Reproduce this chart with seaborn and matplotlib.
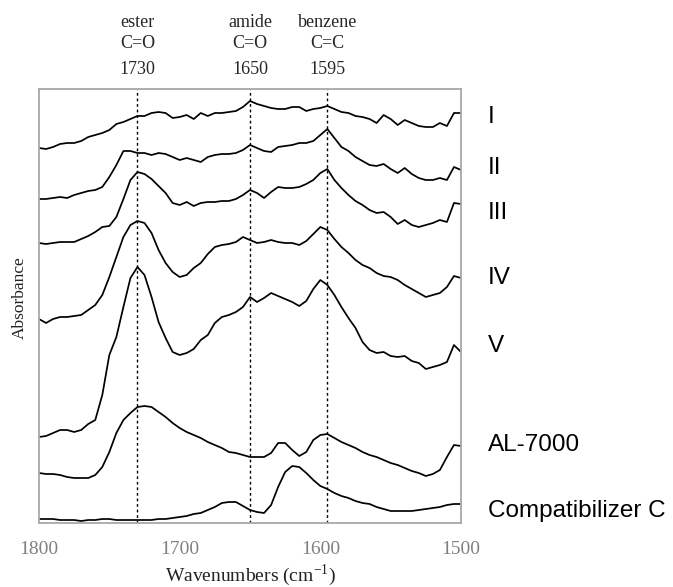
import numpy as np
import pandas as pd
import matplotlib
matplotlib.use("Agg")
import matplotlib.pyplot as plt
import matplotlib.transforms as mtransforms
import seaborn as sns

# FTIR spectra, stacked (offset absorbance, a.u.)
wavenumbers = list(range(1800, 1499, -5))

abs_I = [3.75, 3.74, 3.76, 3.79, 3.80, 3.80, 3.82, 3.86, 3.88, 3.90, 3.93, 3.99, 4.01, 4.04, 4.07,
         4.07, 4.10, 4.11, 4.10, 4.05, 4.06, 4.08, 4.04, 4.10, 4.07, 4.10, 4.10, 4.11, 4.12, 4.16,
         4.22, 4.19, 4.17, 4.15, 4.14, 4.14, 4.16, 4.16, 4.12, 4.14, 4.15, 4.17, 4.14, 4.11, 4.10,
         4.07, 4.06, 4.04, 4.00, 4.08, 4.04, 3.98, 4.03, 4.00, 3.97, 3.96, 3.96, 4.00, 3.97, 4.10, 4.10]
abs_II = [3.24, 3.24, 3.25, 3.26, 3.25, 3.28, 3.30, 3.32, 3.33, 3.36, 3.46, 3.58, 3.72, 3.72, 3.70,
          3.70, 3.68, 3.70, 3.69, 3.66, 3.63, 3.65, 3.63, 3.61, 3.66, 3.68, 3.69, 3.69, 3.70, 3.73,
          3.78, 3.75, 3.72, 3.71, 3.76, 3.77, 3.78, 3.80, 3.80, 3.82, 3.88, 3.94, 3.85, 3.76, 3.72,
          3.66, 3.62, 3.58, 3.57, 3.59, 3.54, 3.50, 3.55, 3.49, 3.45, 3.43, 3.43, 3.45, 3.43, 3.56, 3.53]
abs_III = [2.80, 2.79, 2.80, 2.81, 2.81, 2.81, 2.84, 2.87, 2.91, 2.96, 2.97, 3.06, 3.24, 3.43, 3.51,
           3.49, 3.44, 3.37, 3.30, 3.20, 3.18, 3.21, 3.17, 3.20, 3.21, 3.21, 3.22, 3.22, 3.24, 3.28,
           3.33, 3.30, 3.25, 3.31, 3.36, 3.35, 3.35, 3.36, 3.39, 3.43, 3.50, 3.54, 3.43, 3.35, 3.28,
           3.22, 3.18, 3.13, 3.10, 3.11, 3.06, 2.99, 3.03, 2.98, 2.96, 2.98, 3.00, 3.03, 3.01, 3.20, 3.19]
abs_IV = [2.04, 2.00, 2.04, 2.06, 2.06, 2.07, 2.08, 2.13, 2.18, 2.28, 2.46, 2.66, 2.86, 2.98, 3.02,
          3.00, 2.90, 2.73, 2.60, 2.51, 2.46, 2.48, 2.55, 2.60, 2.69, 2.76, 2.78, 2.79, 2.81, 2.86,
          2.83, 2.80, 2.81, 2.83, 2.81, 2.80, 2.80, 2.78, 2.82, 2.89, 2.96, 2.93, 2.84, 2.76, 2.70,
          2.63, 2.58, 2.55, 2.50, 2.47, 2.46, 2.43, 2.38, 2.34, 2.30, 2.26, 2.28, 2.30, 2.36, 2.47, 2.45]
abs_V = [0.86, 0.87, 0.90, 0.93, 0.93, 0.91, 0.93, 0.99, 1.03, 1.28, 1.68, 1.86, 2.16, 2.45, 2.56,
         2.48, 2.26, 2.01, 1.85, 1.71, 1.68, 1.70, 1.74, 1.83, 1.88, 2.00, 2.06, 2.08, 2.11, 2.16,
         2.26, 2.21, 2.25, 2.30, 2.27, 2.24, 2.21, 2.17, 2.22, 2.34, 2.43, 2.38, 2.28, 2.16, 2.05,
         1.95, 1.81, 1.73, 1.70, 1.71, 1.67, 1.66, 1.67, 1.62, 1.60, 1.54, 1.56, 1.58, 1.61, 1.78, 1.71]
abs_AL = [0.50, 0.49, 0.49, 0.48, 0.46, 0.45, 0.45, 0.45, 0.48, 0.56, 0.71, 0.90, 1.03, 1.10, 1.16,
          1.17, 1.16, 1.11, 1.06, 1.00, 0.95, 0.91, 0.88, 0.85, 0.81, 0.78, 0.75, 0.71, 0.70, 0.68,
          0.66, 0.66, 0.66, 0.70, 0.80, 0.80, 0.73, 0.67, 0.71, 0.83, 0.88, 0.89, 0.85, 0.81, 0.78,
          0.75, 0.71, 0.68, 0.66, 0.63, 0.60, 0.58, 0.55, 0.52, 0.50, 0.47, 0.49, 0.53, 0.66, 0.78, 0.77]
abs_C = [0.04, 0.04, 0.04, 0.03, 0.03, 0.03, 0.02, 0.03, 0.03, 0.04, 0.04, 0.03, 0.03, 0.03, 0.03,
         0.03, 0.03, 0.04, 0.04, 0.05, 0.06, 0.07, 0.09, 0.10, 0.13, 0.16, 0.20, 0.21, 0.21, 0.17,
         0.13, 0.11, 0.10, 0.18, 0.36, 0.51, 0.57, 0.56, 0.50, 0.43, 0.37, 0.34, 0.30, 0.27, 0.25,
         0.22, 0.20, 0.19, 0.16, 0.14, 0.12, 0.12, 0.12, 0.12, 0.13, 0.14, 0.15, 0.16, 0.18, 0.19, 0.19]

samples = ["I", "II", "III", "IV", "V", "AL-7000", "Compatibilizer C"]
spectra = [abs_I, abs_II, abs_III, abs_IV, abs_V, abs_AL, abs_C]

# band assignments shown above the plot
band_names = ["ester", "amide", "benzene"]
band_groups = ["C=O", "C=O", "C=C"]
band_positions = [1730, 1650, 1595]

# where the sample names sit on the right (same units as the y axis)
label_y = [4.06, 3.55, 3.10, 2.45, 1.77, 0.78, 0.12]

df = pd.concat(
    [pd.DataFrame({"wn": wavenumbers, "absorbance": s, "sample": name})
     for name, s in zip(samples, spectra)],
    ignore_index=True,
)

sns.set_theme(style="white")
plt.rcParams["font.family"] = ["Liberation Serif", "DejaVu Serif"]

fig = plt.figure(figsize=(6.73, 5.87), dpi=100)
ax = fig.add_axes([39 / 673, 64 / 587, 422 / 673, 434 / 587])

sns.lineplot(data=df, x="wn", y="absorbance", units="sample", estimator=None,
             color="black", linewidth=1.25, ax=ax)

for wn in band_positions:
    ax.axvline(wn, color="black", linewidth=1.0, linestyle=(0, (2, 2)))

ax.set_xlim(1800, 1500)
ax.set_ylim(0, 4.34)
ax.set_xticks([1800, 1700, 1600, 1500])
ax.set_yticks([])
ax.tick_params(axis="x", direction="in", length=4, color="#a0a0a0",
               labelsize=14, labelcolor="#808080", pad=13)

for side in ["left", "right", "top", "bottom"]:
    ax.spines[side].set_color("#a8a8a8")
    ax.spines[side].set_linewidth(1.3)

ax.set_xlabel("Wavenumbers (cm$^{\\mathregular{-1}}$)", fontsize=14, color="#222222", labelpad=3)
ax.set_ylabel("Absorbance", fontsize=12.5, color="#222222")
ax.yaxis.set_label_coords(-0.027, 0.52)

# header annotations
trans = mtransforms.blended_transform_factory(ax.transData, ax.transAxes)
for name, grp, wn in zip(band_names, band_groups, band_positions):
    ax.text(wn, 1.153, name, transform=trans, ha="center", va="center", fontsize=13)
    ax.text(wn, 1.104, grp, transform=trans, ha="center", va="center", fontsize=13)
    ax.text(wn, 1.046, str(wn), transform=trans, ha="center", va="center", fontsize=13)

label_trans = mtransforms.blended_transform_factory(ax.transAxes, ax.transData)
for name, y in zip(samples, label_y):
    ax.text(1.064, y, name, transform=label_trans, ha="left", va="center",
            fontsize=17.5, family="Liberation Sans", color="black")

fig.savefig("out.png", dpi=100)
